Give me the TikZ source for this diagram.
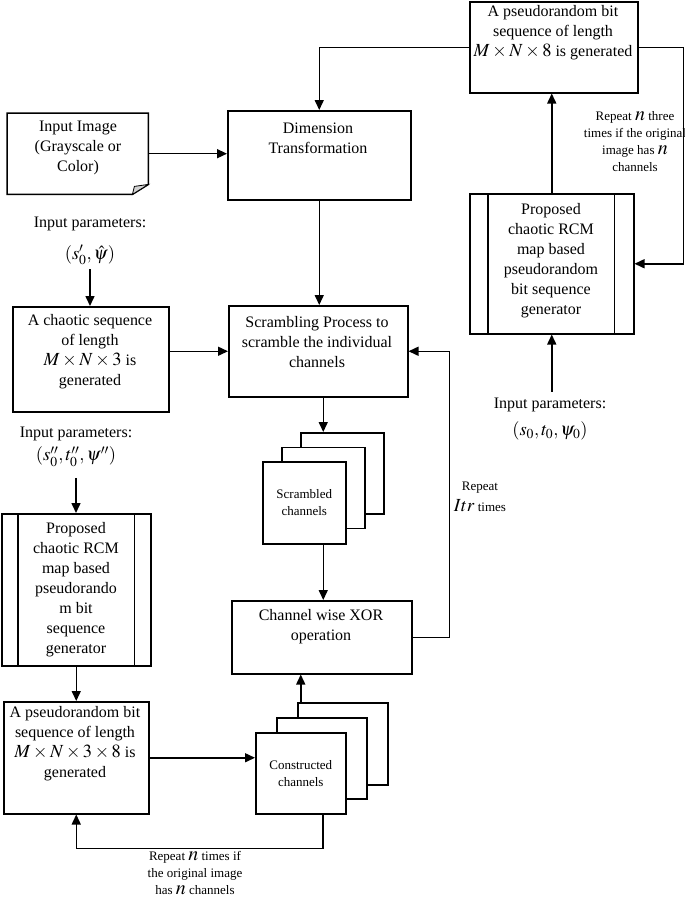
\documentclass[tikz,border=0pt]{standalone}
\usepackage{mathptmx}
\usepackage[no-math]{fontspec}
\setmainfont{Liberation Serif}
\usetikzlibrary{arrows.meta}
\newcommand{\mth}[1]{{\fontsize{18.5}{20}\selectfont$#1$}}
\newcommand{\mn}[1]{{\fontsize{20}{17}\selectfont$#1$}}
\begin{document}
\begin{tikzpicture}[x=1pt,y=-1pt,
  every node/.style={inner sep=1pt},
  box/.style={draw, line width=1.5pt, anchor=north west, inner sep=0pt, fill=white},
  txt/.style={align=center, font=\fontsize{16}{20}\selectfont},
  sml/.style={align=center, font=\fontsize{13}{17}\selectfont},
  arr/.style={line width=1.5pt, -{Triangle[length=10pt,width=9pt]}},
  ln/.style={line width=1.5pt}]
\useasboundingbox (0,0) rectangle (685,898);

% ---------- boxes ----------
\node[box, minimum width=168pt, minimum height=91pt] (topbox) at (469,1) {};
\node[txt] (topboxT) at (553,33) {A pseudorandom bit\\sequence of length\\\mth{M\times N\times 8} is generated};

\node[box, minimum width=164pt, minimum height=140pt] (gen1) at (469,193) {};
\draw[ln] ([xshift=19pt]gen1.north west) -- ([xshift=19pt]gen1.south west);
\draw[ln] ([xshift=-20pt]gen1.north east) -- ([xshift=-20pt]gen1.south east);
\node[txt] (gen1T) at (551,261) {Proposed\\chaotic RCM\\map based\\pseudorandom\\bit sequence\\generator};

\node[anchor=north west, minimum width=141pt, minimum height=81pt, inner sep=0pt] (img) at (7,113) {};
\draw[ln, line join=miter] (img.south west) -- (img.north west) -- (img.north east)
  -- ([yshift=10pt]img.south east) -- ([xshift=-16pt]img.south east) -- cycle;
\filldraw[line width=0.8pt, fill=gray!35] ([yshift=10pt]img.south east) -- ([xshift=-16pt]img.south east)
  -- ([xshift=-14pt,yshift=8pt]img.south east) -- cycle;
\node[txt] (imgT) at (78,148) {Input Image\\(Grayscale or\\Color)};

\node[box, minimum width=183pt, minimum height=89pt] (dim) at (227,110) {};
\node[txt] (dimT) at (318,138) {Dimension\\Transformation};

\node[box, minimum width=156pt, minimum height=105pt] (chaos) at (12,306) {};
\node[txt] (chaosT) at (90,352) {A chaotic sequence\\of length\\\mth{M\times N\times 3} is\\generated};

\node[box, minimum width=179pt, minimum height=91pt] (scr) at (228,305) {};
\node[txt] (scrT) at (317,342) {Scrambling Process to\\scramble the individual\\channels};

\node[box, minimum width=149pt, minimum height=152pt] (gen2) at (1,513) {};
\draw[ln] ([xshift=17pt]gen2.north west) -- ([xshift=17pt]gen2.south west);
\draw[ln] ([xshift=-17pt]gen2.north east) -- ([xshift=-17pt]gen2.south east);
\node[txt] (gen2T) at (76,590) {Proposed\\chaotic RCM\\map based\\pseudorando\\m bit\\sequence\\generator};

\node[box, minimum width=145pt, minimum height=112pt] (pbs) at (3,701) {};
\node[txt] (pbsT) at (75,744) {A pseudorandom bit\\sequence of length\\\mth{M\times N\times 3\times 8} is\\generated};

\node[box, minimum width=180pt, minimum height=73pt] (xor) at (231,600) {};
\node[txt] (xorT) at (321,627) {Channel wise XOR\\operation};

% scrambled stack
\node[box, minimum width=83pt, minimum height=81pt] (sback) at (300,432) {};
\node[box, minimum width=83pt, minimum height=81pt] (smid) at (281,446.5) {};
\node[box, sml, minimum width=83pt, minimum height=82pt] (sfront) at (262,461) {Scrambled\\channels};

% constructed stack
\node[box, minimum width=90pt, minimum height=82pt] (cback) at (297,702) {};
\node[box, minimum width=90pt, minimum height=81pt] (cmid) at (276,717) {};
\node[box, sml, minimum width=90pt, minimum height=81pt] (cfront) at (255,732) {Constructed\\channels};

% ---------- parameter texts ----------
\node[txt] (pL1) at (90,241) {Input parameters:\\[12pt]\mth{(s_0',\hat\psi)}};
\node[txt] (pL2) at (76,447) {Input parameters:\\[3pt]\mth{(s_0'',t_0'',\psi'')}};
\node[txt] (pR) at (550,419) {Input parameters:\\[7pt]\mth{(s_0,t_0,\psi_0)}};

% ---------- labels ----------
\node[sml] (L1) at (635,142) {Repeat \mn{n} three\\times if the original\\image has \mn{n}\\channels};
\node[sml] (L2) at (480,497) {Repeat\\[4pt]\mth{Itr} times};
\node[sml] (L3) at (195,873) {Repeat \mn{n} times if\\the original image\\has \mn{n} channels};

% ---------- connectors ----------
\draw[arr] (topbox.west) -| (dim.north);
\draw[arr] (topbox.east) -- ++(45,0) |- (gen1.east);
\draw[arr] (gen1.north) -- (gen1.north |- topbox.south);
\draw[arr] ([yshift=5pt]pR.north -| gen1.south) -- (gen1.south);
\draw[arr] (img.east) -- (img.east -| dim.west);
\draw[arr] (dim.south) -- (dim.south |- scr.north);
\draw[arr] ([yshift=-3pt]pL1.south) -- (pL1.south |- chaos.north);
\draw[arr] (scr.west -| chaos.east) -- (scr.west);
\draw[arr] ([yshift=-10pt]pL2.south) -- (pL2.south |- gen2.north);
\draw[arr] (gen2.south) -- (gen2.south |- pbs.north);
\draw[arr] (pbs.east) -- (pbs.east -| cfront.west);
\draw[arr] ([xshift=22pt]cfront.south) -- ++(0,34) -| (pbs.south);
\draw[arr] (cfront.north |- cback.north) -- (cfront.north |- xor.south);
\draw[arr] (smid.north |- scr.south) -- (smid.north |- sback.north);
\draw[arr] (smid.south |- sfront.south) -- (smid.south |- xor.north);
\draw[arr] (xor.east) -- ++(37,0) |- (scr.east);
\end{tikzpicture}
\end{document}
